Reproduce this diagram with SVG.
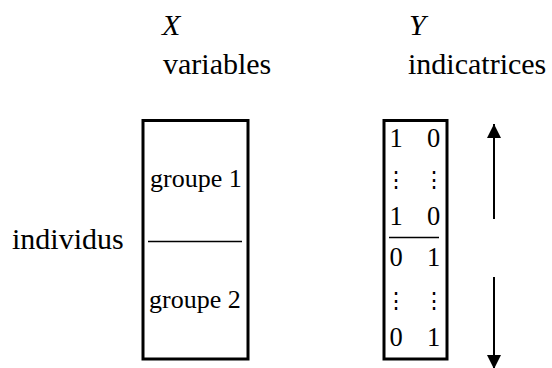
<svg xmlns="http://www.w3.org/2000/svg" width="552" height="368" viewBox="0 0 552 368">
<style>
text{font-family:"Liberation Serif","Times New Roman",serif;fill:#000}
.lbl{font-size:30px}
.it{font-size:30px;font-style:italic}
.g{font-size:26px}
.d{font-size:26.5px;text-anchor:middle}
.v{font-family:"DejaVu Serif",serif;font-size:22px;text-anchor:middle}
.box{fill:#fff;stroke:#000;stroke-width:3}
.sep{stroke:#000;stroke-width:1.5}
.arr{stroke:#000;stroke-width:2;fill:none}
</style>
<defs>
<marker id="ah" viewBox="0 0 10 10" refX="10" refY="5" markerWidth="7" markerHeight="7" markerUnits="strokeWidth" orient="auto">
<path d="M0,0 L10,5 L0,10 z" fill="#000"/>
</marker>
</defs>
<g id="headers">
<text class="it" x="162" y="35">X</text>
<text class="lbl" x="163" y="74">variables</text>
<text class="it" x="409" y="35">Y</text>
<text class="lbl" x="408" y="74">indicatrices</text>
</g>
<g id="individus">
<text class="lbl" x="12" y="249">individus</text>
</g>
<g id="matrixX">
<rect class="box" x="143" y="120.5" width="105" height="238.5"/>
<line class="sep" x1="148" y1="241.5" x2="242" y2="241.5"/>
<text class="g" x="150" y="187">groupe 1</text>
<text class="g" x="149" y="308">groupe 2</text>
</g>
<g id="matrixY">
<rect class="box" x="384" y="120.5" width="63" height="238.5"/>
<line class="sep" x1="389" y1="237.5" x2="439" y2="237.5"/>
<text class="d" x="396" y="147">1</text>
<text class="d" x="433.5" y="147">0</text>
<text class="v" x="395.5" y="187">⋮</text>
<text class="v" x="433.5" y="187">⋮</text>
<text class="d" x="396" y="225">1</text>
<text class="d" x="433.5" y="225">0</text>
<text class="d" x="396" y="266">0</text>
<text class="d" x="433.5" y="266">1</text>
<text class="v" x="395.5" y="308">⋮</text>
<text class="v" x="433.5" y="308">⋮</text>
<text class="d" x="396" y="346">0</text>
<text class="d" x="433.5" y="346">1</text>
</g>
<g id="connectors">
<line class="arr" x1="494" y1="219" x2="494" y2="124" marker-end="url(#ah)"/>
<line class="arr" x1="494" y1="277" x2="494" y2="369" marker-end="url(#ah)"/>
</g>
</svg>
